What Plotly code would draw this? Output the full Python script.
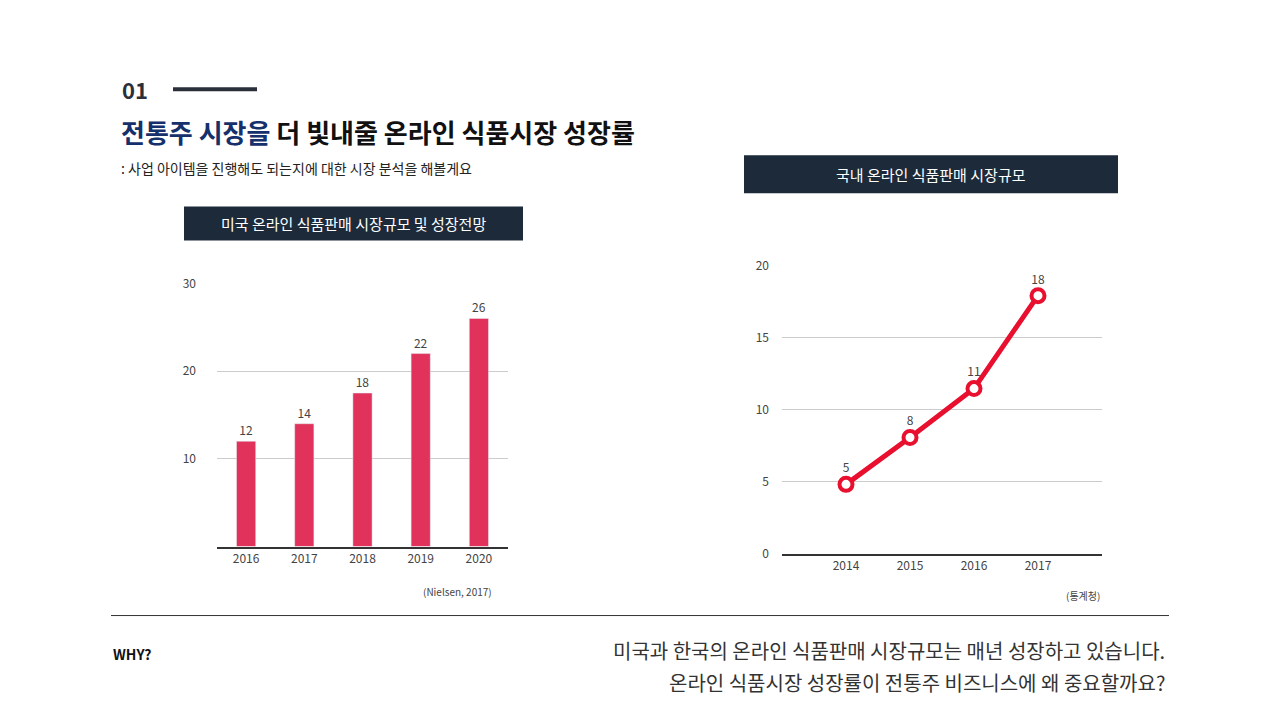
import plotly.graph_objects as go

FONT = "Noto Sans CJK KR"
W, H = 1280, 720

# data
us_years = ["2016", "2017", "2018", "2019", "2020"]
us_values = [12, 14, 17.5, 22, 26]
us_labels = ["12", "14", "18", "22", "26"]

kr_years = ["2014", "2015", "2016", "2017"]
kr_values = [4.8, 8.05, 11.45, 17.9]
kr_labels = ["5", "8", "11", "18"]

# page offset correction (rendered page shifts the figure)
def px(x):
    return (x - 8) / W

def py(y):
    return 1 - ((y - 17.7) / 0.976) / H

fig = go.Figure()

fig.add_trace(go.Bar(
    x=us_years, y=us_values, text=us_labels, textposition="outside",
    textfont=dict(size=12, color="#444"), marker_color="#e0325a", width=0.33,
    cliponaxis=False, xaxis="x", yaxis="y", showlegend=False
))
fig.add_trace(go.Scatter(
    x=kr_years, y=kr_values, text=kr_labels, mode="lines+markers+text",
    textposition="top center", textfont=dict(size=12, color="#444"),
    line=dict(color="#e8102e", width=5),
    marker=dict(size=13, color="white", line=dict(color="#e8102e", width=4)),
    cliponaxis=False, xaxis="x2", yaxis="y2", showlegend=False
))

axis_font = dict(family=FONT, size=12, color="#444")
fig.update_layout(
    width=W, height=H, margin=dict(l=0, r=0, t=0, b=0),
    paper_bgcolor="white", plot_bgcolor="white",
    font=dict(family=FONT),
    xaxis=dict(domain=[px(217), px(508)], range=[-0.5, 4.5], showgrid=False,
               showline=True, linecolor="#333", linewidth=1.5, tickfont=axis_font, ticks=""),
    yaxis=dict(domain=[py(546), py(283)], range=[0, 30], tickvals=[10, 20, 30],
               gridcolor="#cccccc", showline=False, zeroline=False, tickfont=axis_font,
               ticklabelstandoff=20),
    xaxis2=dict(domain=[px(782), px(1102)], range=[-1, 4], showgrid=False,
                showline=True, linecolor="#333", linewidth=1.5, tickfont=axis_font, ticks="",
                anchor="y2"),
    yaxis2=dict(domain=[py(553), py(265)], range=[0, 20], tickvals=[0, 5, 10, 15, 20],
                gridcolor="#cccccc", showline=False, zeroline=False, tickfont=axis_font,
                anchor="x2", ticklabelstandoff=12),
)

shapes = [
    dict(type="line", xref="paper", yref="paper", x0=px(173), x1=px(257), y0=py(89), y1=py(89),
         line=dict(color="#2b2f3a", width=4)),
    dict(type="rect", xref="paper", yref="paper", x0=px(184), x1=px(523), y0=py(240), y1=py(206),
         fillcolor="#1c2a3a", line=dict(width=0)),
    dict(type="rect", xref="paper", yref="paper", x0=px(744), x1=px(1118), y0=py(193), y1=py(155),
         fillcolor="#1c2a3a", line=dict(width=0)),
    dict(type="line", xref="paper", yref="paper", x0=px(111), x1=px(1169), y0=py(615), y1=py(615),
         line=dict(color="#333", width=1)),
]
fig.update_layout(shapes=shapes)

def note(x, y, text, size, color="#222", xanchor="left", bold=False):
    if bold:
        text = "<b>" + text + "</b>"
    fig.add_annotation(x=px(x), y=py(y), xref="paper", yref="paper", text=text, showarrow=False,
                       xanchor=xanchor, yanchor="middle",
                       font=dict(family=FONT, size=size, color=color))

note(120, 89, "01", 22, "#2b2f3a", bold=True)
note(119, 131, "<span style='color:#15306b'>전통주 시장을</span> 더 빛내줄 온라인 식품시장 성장률", 26, "#111", bold=True)
note(119, 168, ": 사업 아이템을 진행해도 되는지에 대한 시장 분석을 해볼게요", 14, "#222")
note(353, 223, "미국 온라인 식품판매 시장규모 및 성장전망", 15, "white", "center")
note(931, 174, "국내 온라인 식품판매 시장규모", 15, "white", "center")
note(494, 591, "(Nielsen, 2017)", 10, "#444", "right")
note(1102, 595, "(통계청)", 10, "#444", "right")
note(111, 653, "WHY?", 14, "#111", bold=True)
note(1167, 650, "미국과 한국의 온라인 식품판매 시장규모는 매년 성장하고 있습니다.", 20, "#333", "right")
note(1167, 682, "온라인 식품시장 성장률이 전통주 비즈니스에 왜 중요할까요?", 20, "#333", "right")

fig.write_html("out.html")
